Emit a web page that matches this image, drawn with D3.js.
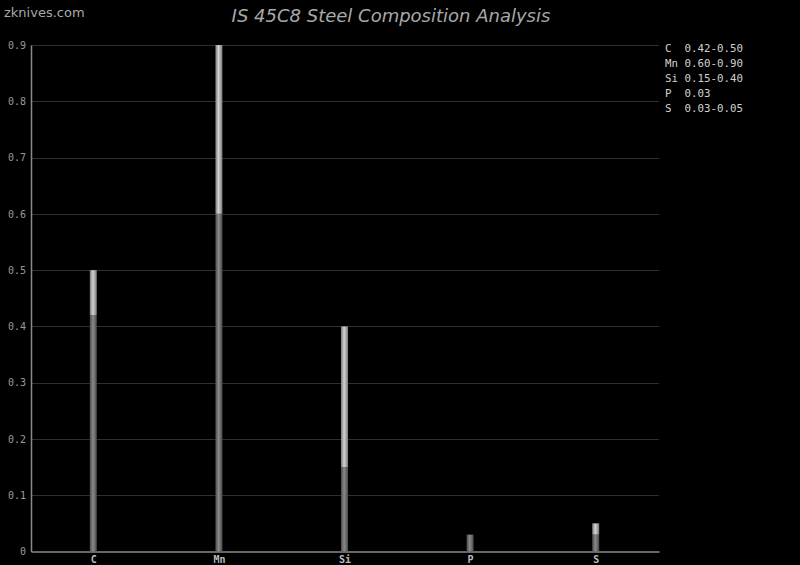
<!DOCTYPE html>
<html><head><meta charset="utf-8">
<script src="https://cdn.jsdelivr.net/npm/d3@7"></script>
<style>body{margin:0;background:#000}svg{display:block}</style>
</head><body>
<svg id="c" width="800" height="565"></svg>
<script>
const categories = ["C", "Mn", "Si", "P", "S"];
const minValues = [0.42, 0.60, 0.15, 0.03, 0.03];
const maxValues = [0.50, 0.90, 0.40, 0.03, 0.05];
const legendLabels = ["C  0.42-0.50", "Mn 0.60-0.90", "Si 0.15-0.40", "P  0.03", "S  0.03-0.05"];
const yTicks = [0, 0.1, 0.2, 0.3, 0.4, 0.5, 0.6, 0.7, 0.8, 0.9];

const svg = d3.select("#c");
svg.append("rect").attr("width", 800).attr("height", 565).attr("fill", "#000");
const L = 31, R = 659, T = 45, B = 551.5;
const x = d3.scaleBand().domain(categories).range([L, R]);
const y = d3.scaleLinear().domain([0, 0.9]).range([B, T]);

const defs = svg.append("defs");
function grad(id, edge, mid) {
  const g = defs.append("linearGradient").attr("id", id).attr("x1", "0").attr("x2", "1").attr("y1", "0").attr("y2", "0");
  g.append("stop").attr("offset", "0").attr("stop-color", edge);
  g.append("stop").attr("offset", "0.45").attr("stop-color", mid);
  g.append("stop").attr("offset", "1").attr("stop-color", edge);
}
grad("gLow", "#4a4a4a", "#8a8a8a");
grad("gHigh", "#7a7a7a", "#d2d2d2");

// gridlines
svg.append("g").selectAll("line").data(yTicks.slice(1)).join("line")
  .attr("x1", L).attr("x2", R).attr("y1", d => Math.round(y(d)) + 0.5).attr("y2", d => Math.round(y(d)) + 0.5)
  .attr("stroke", "#303030").attr("stroke-width", 1);

// y axis
const yAxis = d3.axisLeft(y).tickValues(yTicks).tickSize(0).tickPadding(5).tickFormat(d => d === 0 ? "0" : d3.format(".1f")(d));
const gy = svg.append("g").attr("transform", `translate(${L},0)`).call(yAxis);
gy.select(".domain").attr("stroke", "#8a8a8a").attr("stroke-width", 1.5);
gy.selectAll("text").attr("fill", "#9a9a9a").attr("font-family", "DejaVu Sans Mono").attr("font-size", 10);

// x axis
const xAxis = d3.axisBottom(x).tickSize(0).tickPadding(4);
const gx = svg.append("g").attr("transform", `translate(0,${B})`).call(xAxis);
gx.select(".domain").attr("stroke", "#8a8a8a").attr("stroke-width", 1.5);
gx.selectAll("text").attr("fill", "#bbb").attr("font-family", "DejaVu Sans Mono").attr("font-size", 10).attr("font-weight", "bold");

// bars
const bw = 7;
const bars = svg.append("g");
bars.selectAll("rect.low").data(categories).join("rect").attr("class", "low")
  .attr("x", d => x(d) + x.bandwidth() / 2 - bw / 2 - 0.5).attr("width", bw)
  .attr("y", (d, i) => y(minValues[i])).attr("height", (d, i) => y(0) - y(minValues[i]))
  .attr("fill", "url(#gLow)");
bars.selectAll("rect.high").data(categories).join("rect").attr("class", "high")
  .attr("x", d => x(d) + x.bandwidth() / 2 - bw / 2 - 0.5).attr("width", bw)
  .attr("y", (d, i) => y(maxValues[i])).attr("height", (d, i) => y(minValues[i]) - y(maxValues[i]))
  .attr("fill", "url(#gHigh)");

// title
svg.append("text").attr("x", 391).attr("y", 22).attr("text-anchor", "middle")
  .attr("font-family", "DejaVu Sans").attr("font-style", "italic").attr("font-size", 18)
  .attr("fill", "#a8a8a8").text("IS 45C8 Steel Composition Analysis");
// watermark
svg.append("text").attr("x", 4).attr("y", 17).attr("font-family", "DejaVu Sans").attr("font-size", 13)
  .attr("fill", "#a8a8a8").text("zknives.com");

// legend
svg.append("g").selectAll("text").data(legendLabels).join("text")
  .attr("x", 665).attr("y", (d, i) => 52 + i * 15)
  .attr("font-family", "DejaVu Sans Mono").attr("font-size", 10.8).attr("fill", "#d0d0d0")
  .attr("xml:space", "preserve").style("white-space", "pre").text(d => d);
</script>
</body></html>
